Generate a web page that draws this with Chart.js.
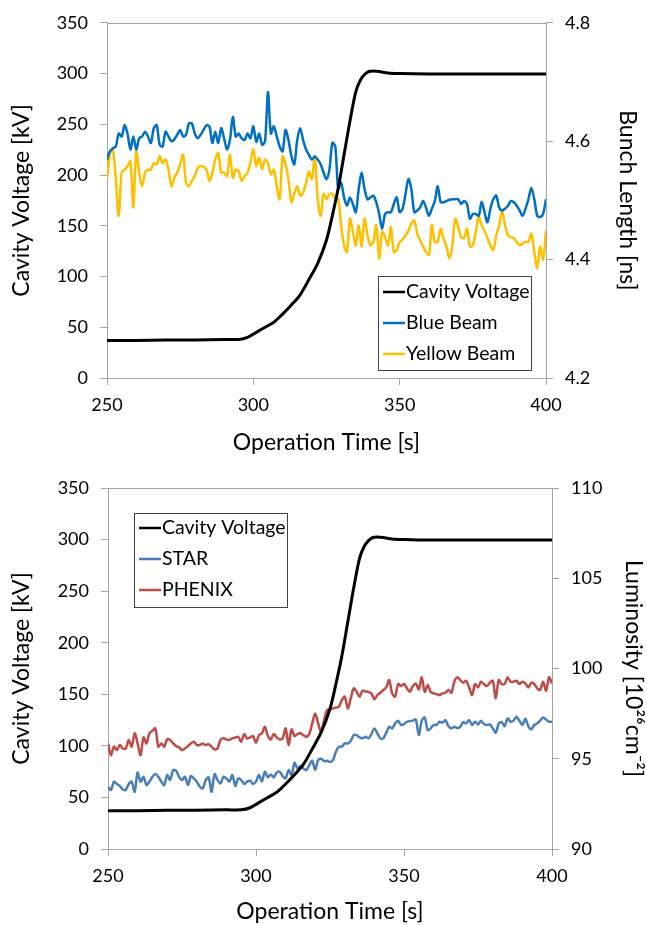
<!DOCTYPE html>
<html>
<head>
<meta charset="utf-8">
<script src="https://cdn.jsdelivr.net/npm/chart.js@4.4.1/dist/chart.umd.min.js"></script>
<style>
  html, body { margin: 0; padding: 0; background: #fff; }
  canvas { display: block; }
</style>
</head>
<body>
<canvas id="bunchChart" width="647" height="462"></canvas>
<canvas id="lumiChart" width="647" height="463"></canvas>
<script>
// sample times of the beam / luminosity logs [s]
const sampleTimes = [
  250, 251, 252, 253, 254, 255, 256, 257, 258, 259, 260, 261, 262, 263, 264, 265, 266, 267, 268, 269,
  270, 271, 272, 273, 274, 275, 276, 277, 278, 279, 280, 281, 282, 283, 284, 285, 286, 287, 288, 289,
  290, 291, 292, 293, 294, 295, 296, 297, 298, 299, 300, 301, 302, 303, 304, 305, 306, 307, 308, 309,
  310, 311, 312, 313, 314, 315, 316, 317, 318, 319, 320, 321, 322, 323, 324, 325, 326, 327, 328, 329,
  330, 331, 332, 333, 334, 335, 336, 337, 338, 339, 340, 341, 342, 343, 344, 345, 346, 347, 348, 349,
  350, 351, 352, 353, 354, 355, 356, 357, 358, 359, 360, 361, 362, 363, 364, 365, 366, 367, 368, 369,
  370, 371, 372, 373, 374, 375, 376, 377, 378, 379, 380, 381, 382, 383, 384, 385, 386, 387, 388, 389,
  390, 391, 392, 393, 394, 395, 396, 397, 398, 399, 400
];

// cavity voltage ramp [kV]
const cavityTime = [250, 260, 270, 280, 290, 295, 298, 301, 304, 307, 310, 313, 316, 319, 322, 325, 327,
  329, 331, 333, 335, 336.5, 338, 339.5, 341, 343, 346, 350, 360, 370, 380, 390, 400];
const cavityKV = [37, 37, 37.5, 37.5, 38, 38, 40, 45, 50, 55, 63, 72, 82, 97, 113, 136, 160,
  187, 220, 253, 282, 293, 299, 302, 302.5, 302, 300.5, 300, 299.5, 299.5, 299.5, 299.5, 299.5];

// bunch length [ns]
const blueBeam = [
  4.569, 4.583, 4.588, 4.591, 4.613, 4.608, 4.627, 4.613, 4.586, 4.608,
  4.586, 4.605, 4.608, 4.616, 4.608, 4.597, 4.622, 4.627, 4.594, 4.591,
  4.616, 4.608, 4.600, 4.603, 4.611, 4.619, 4.608, 4.611, 4.630, 4.630,
  4.613, 4.605, 4.611, 4.619, 4.627, 4.625, 4.597, 4.616, 4.597, 4.622,
  4.605, 4.586, 4.602, 4.641, 4.608, 4.613, 4.605, 4.602, 4.613, 4.605,
  4.625, 4.599, 4.613, 4.594, 4.600, 4.683, 4.613, 4.625, 4.608, 4.591,
  4.583, 4.619, 4.602, 4.575, 4.561, 4.602, 4.622, 4.602, 4.586, 4.577,
  4.569, 4.574, 4.569, 4.561, 4.547, 4.536, 4.552, 4.597, 4.591, 4.519,
  4.530, 4.505, 4.491, 4.505, 4.494, 4.480, 4.519, 4.547, 4.519, 4.502,
  4.505, 4.508, 4.497, 4.477, 4.452, 4.477, 4.480, 4.480, 4.494, 4.505,
  4.480, 4.486, 4.511, 4.536, 4.519, 4.480, 4.483, 4.488, 4.499, 4.488,
  4.474, 4.486, 4.499, 4.524, 4.497, 4.497, 4.499, 4.501, 4.502, 4.502,
  4.502, 4.494, 4.499, 4.494, 4.469, 4.477, 4.477, 4.474, 4.497, 4.480,
  4.463, 4.486, 4.502, 4.508, 4.488, 4.483, 4.486, 4.491, 4.499, 4.497,
  4.491, 4.483, 4.474, 4.486, 4.502, 4.521, 4.502, 4.474, 4.472, 4.477,
  4.502
];
const yellowBeam = [
  4.536, 4.577, 4.586, 4.536, 4.474, 4.547, 4.552, 4.558, 4.566, 4.488,
  4.583, 4.547, 4.524, 4.547, 4.552, 4.552, 4.563, 4.561, 4.575, 4.563,
  4.569, 4.552, 4.524, 4.538, 4.547, 4.561, 4.577, 4.530, 4.524, 4.533,
  4.541, 4.555, 4.558, 4.557, 4.552, 4.533, 4.547, 4.569, 4.580, 4.547,
  4.547, 4.541, 4.577, 4.538, 4.552, 4.549, 4.533, 4.541, 4.547, 4.563,
  4.586, 4.558, 4.572, 4.553, 4.569, 4.563, 4.544, 4.552, 4.524, 4.502,
  4.575, 4.561, 4.536, 4.497, 4.511, 4.524, 4.508, 4.513, 4.529, 4.549,
  4.536, 4.575, 4.502, 4.474, 4.511, 4.502, 4.511, 4.511, 4.502, 4.502,
  4.458, 4.424, 4.413, 4.469, 4.447, 4.424, 4.458, 4.422, 4.469, 4.441,
  4.424, 4.430, 4.458, 4.402, 4.447, 4.438, 4.424, 4.455, 4.413, 4.416,
  4.430, 4.434, 4.441, 4.449, 4.461, 4.466, 4.444, 4.433, 4.422, 4.413,
  4.408, 4.458, 4.430, 4.430, 4.452, 4.436, 4.422, 4.402, 4.424, 4.469,
  4.455, 4.438, 4.436, 4.452, 4.422, 4.424, 4.447, 4.472, 4.458, 4.449,
  4.436, 4.424, 4.416, 4.441, 4.458, 4.483, 4.458, 4.441, 4.438, 4.436,
  4.430, 4.424, 4.427, 4.430, 4.430, 4.444, 4.413, 4.386, 4.422, 4.400,
  4.449
];

// luminosity [1e26 cm^-2]
const starLumi = [
  93.45, 93.27, 93.73, 93.60, 93.49, 93.30, 93.27, 93.60, 93.73, 93.17,
  94.23, 93.73, 94.00, 93.54, 93.73, 94.00, 94.15, 94.00, 93.73, 93.54,
  94.10, 93.82, 94.37, 94.34, 94.00, 93.82, 94.00, 93.54, 94.04, 93.91,
  93.73, 93.45, 93.36, 93.82, 93.97, 93.17, 94.15, 93.82, 93.63, 94.00,
  93.91, 93.73, 94.10, 93.49, 93.91, 93.82, 93.60, 93.73, 93.78, 93.60,
  93.73, 94.10, 93.76, 94.28, 93.97, 94.13, 93.97, 94.23, 94.28, 94.04,
  93.91, 94.37, 94.10, 94.78, 94.47, 94.60, 94.47, 94.37, 94.65, 94.89,
  94.37, 94.93, 95.00, 94.87, 94.89, 94.82, 94.93, 95.39, 95.67, 95.67,
  95.85, 95.85, 96.00, 96.31, 96.31, 96.18, 96.13, 96.22, 96.13, 96.37,
  96.68, 96.41, 96.13, 96.13, 96.44, 96.77, 96.68, 96.96, 97.11, 96.87,
  96.92, 97.05, 97.09, 97.11, 97.18, 96.31, 97.11, 97.29, 96.59, 96.68,
  96.87, 96.87, 97.05, 97.00, 97.14, 96.81, 96.68, 96.77, 96.70, 96.77,
  97.03, 96.96, 97.14, 96.87, 97.05, 96.90, 97.11, 96.92, 96.87, 96.90,
  96.68, 96.44, 96.96, 97.03, 96.81, 97.24, 97.05, 97.11, 97.33, 97.11,
  96.87, 97.22, 96.81, 96.63, 96.87, 96.96, 97.11, 97.29, 97.18, 97.05,
  97.05
];
const phenixLumi = [
  95.85, 95.20, 95.67, 95.48, 95.76, 95.57, 95.57, 96.04, 95.67, 96.41,
  95.85, 95.20, 96.18, 95.85, 96.41, 96.55, 96.68, 95.67, 95.85, 95.67,
  96.07, 96.04, 95.85, 95.70, 95.63, 95.48, 95.57, 95.70, 95.85, 95.94,
  95.76, 95.76, 95.85, 95.76, 95.81, 95.67, 95.52, 95.57, 96.04, 96.13,
  96.07, 96.04, 96.13, 96.18, 96.22, 95.94, 96.37, 96.13, 96.18, 96.26,
  95.89, 96.31, 96.41, 96.77, 96.26, 96.07, 96.37, 96.18, 96.07, 96.13,
  96.68, 95.76, 96.63, 96.26, 96.37, 96.41, 96.31, 96.22, 96.37, 96.96,
  97.51, 96.96, 96.50, 97.14, 97.70, 97.73, 97.79, 97.83, 97.88, 98.25,
  98.44, 97.79, 98.34, 98.90, 98.71, 98.44, 98.77, 98.73, 98.70, 98.62,
  98.29, 98.53, 98.66, 98.81, 98.95, 99.36, 98.62, 98.44, 99.14, 99.03,
  99.14, 98.90, 98.71, 99.03, 99.17, 98.84, 99.51, 98.71, 99.08, 98.71,
  98.62, 98.58, 98.53, 98.62, 98.66, 98.81, 98.66, 99.27, 99.51, 99.36,
  99.21, 99.32, 98.95, 98.53, 99.14, 98.95, 99.27, 99.14, 99.03, 99.21,
  99.32, 98.34, 99.36, 99.14, 99.14, 99.51, 99.27, 99.27, 99.32, 99.14,
  99.27, 99.17, 98.95, 99.21, 99.14, 98.90, 98.81, 99.27, 98.77, 99.51,
  99.17
];

const FONT = "Lato, 'Open Sans', sans-serif";
const AXIS_GREY = "#a6a6a6";

const pairs = (xs, ys) => xs.map((x, i) => ({ x, y: ys[i] }));

// frame line on top of the plot + boxed legend inside the plot area
const boxLegend = {
  id: "boxLegend",
  afterDatasetsDraw(chart, args, opts) {
    const ctx = chart.ctx;
    const a = chart.chartArea;
    ctx.save();
    ctx.strokeStyle = AXIS_GREY;
    ctx.lineWidth = 1;
    ctx.beginPath();
    ctx.moveTo(a.left, Math.round(a.top) + 0.5);
    ctx.lineTo(a.right, Math.round(a.top) + 0.5);
    ctx.stroke();

    const b = opts.box;
    ctx.fillStyle = "#fff";
    ctx.fillRect(b.x, b.y, b.w, b.h);
    ctx.strokeStyle = "#404040";
    ctx.strokeRect(b.x + 0.5, b.y + 0.5, b.w, b.h);
    ctx.font = opts.fontSize + "px " + FONT;
    ctx.textBaseline = "middle";
    chart.data.datasets.forEach((ds, i) => {
      const y = b.y + opts.firstRow + i * opts.rowGap;
      ctx.strokeStyle = ds.borderColor;
      ctx.lineWidth = 2.5;
      ctx.beginPath();
      ctx.moveTo(b.x + 5, y);
      ctx.lineTo(b.x + 27, y);
      ctx.stroke();
      ctx.fillStyle = "#000";
      ctx.fillText(ds.label, b.x + 28, y);
    });
    ctx.restore();
  }
};

function lineSet(label, data, color, yAxisID, width) {
  return {
    label, data, yAxisID,
    borderColor: color,
    backgroundColor: color,
    borderWidth: width,
    pointRadius: 0,
    tension: 0.3,
    fill: false
  };
}

function xScale(titlePad, height) {
  return {
    type: "linear", min: 250, max: 400,
    ticks: { stepSize: 50, color: "#000", font: { family: FONT, size: 18 }, padding: 9 },
    grid: { drawOnChartArea: false, tickLength: 7, color: AXIS_GREY },
    border: { color: AXIS_GREY },
    title: { display: true, text: "Operation Time [s]", color: "#000",
             font: { family: FONT, size: 23 }, padding: { top: 0, bottom: titlePad } },
    afterFit: s => { s.height = height; }
  };
}

function yScale(pos, min, max, step, title, width, titlePad, fmt) {
  return {
    type: "linear", position: pos, min, max,
    ticks: { stepSize: step, color: "#000", font: { family: FONT, size: 18 }, padding: 12,
             callback: fmt || (v => v) },
    grid: { drawOnChartArea: false, tickLength: 7, color: AXIS_GREY },
    border: { color: AXIS_GREY },
    title: { display: true, text: title, color: "#000",
             font: { family: FONT, size: 23 }, padding: { top: titlePad, bottom: 0 } },
    afterFit: s => { s.width = width; }
  };
}

new Chart(document.getElementById("bunchChart"), {
  type: "line",
  data: {
    datasets: [
      lineSet("Cavity Voltage", pairs(cavityTime, cavityKV), "#000000", "y", 3),
      lineSet("Blue Beam", pairs(sampleTimes, blueBeam), "#0070c0", "y1", 2.5),
      lineSet("Yellow Beam", pairs(sampleTimes, yellowBeam), "#ffc000", "y1", 2.5)
    ]
  },
  options: {
    responsive: false,
    animation: false,
    layout: { padding: { top: 18, left: 0, right: 0, bottom: 0 } },
    plugins: {
      legend: { display: false },
      tooltip: { enabled: false },
      boxLegend: { box: { x: 378, y: 276, w: 153, h: 94 }, firstRow: 16, rowGap: 31, fontSize: 19.5 }
    },
    scales: {
      x: xScale(6, 84),
      y: yScale("left", 0, 350, 50, "Cavity Voltage [kV]", 107, 8),
      y1: yScale("right", 4.2, 4.8, 0.2, "Bunch Length [ns]", 101, 6, v => v.toFixed(1))
    }
  },
  plugins: [boxLegend]
});

new Chart(document.getElementById("lumiChart"), {
  type: "line",
  data: {
    datasets: [
      lineSet("Cavity Voltage", pairs(cavityTime, cavityKV), "#000000", "y", 3),
      lineSet("STAR", pairs(sampleTimes, starLumi), "#4a7ebb", "y1", 2.5),
      lineSet("PHENIX", pairs(sampleTimes, phenixLumi), "#be4b48", "y1", 2.5)
    ]
  },
  options: {
    responsive: false,
    animation: false,
    layout: { padding: { top: 26, left: 0, right: 0, bottom: 0 } },
    plugins: {
      legend: { display: false },
      tooltip: { enabled: false },
      boxLegend: { box: { x: 134, y: 51, w: 153, h: 94 }, firstRow: 15, rowGap: 31, fontSize: 19.5 }
    },
    scales: {
      x: xScale(0, 76),
      y: yScale("left", 0, 350, 50, "Cavity Voltage [kV]", 108, 8),
      y1: yScale("right", 90, 110, 5, "Luminosity [10²⁶cm⁻²]", 95, 0)
    }
  },
  plugins: [boxLegend]
});
</script>
</body>
</html>
